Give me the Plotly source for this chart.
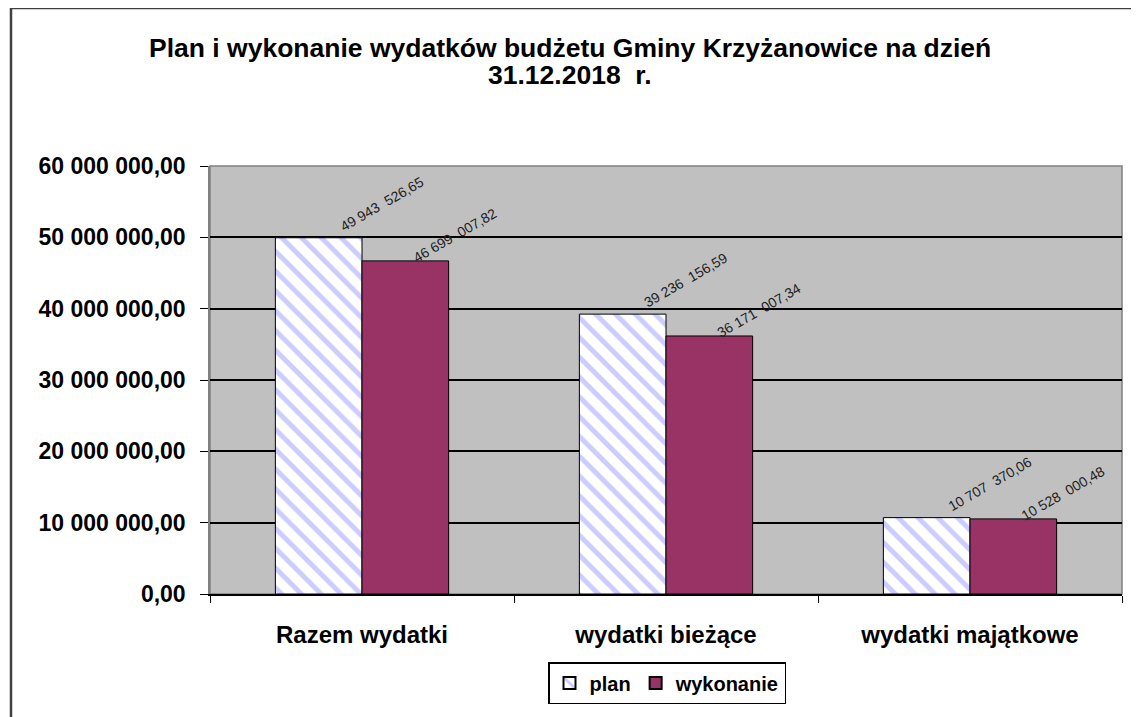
import plotly.graph_objects as go

categories = ["Razem wydatki", "wydatki bieżące", "wydatki majątkowe"]
plan = [49943526.65, 39236156.59, 10707370.06]
wykonanie = [46699007.82, 36171007.34, 10528000.48]
plan_labels = ["49 943  526,65", "39 236  156,59", "10 707  370,06"]
wyk_labels = ["46 699  007,82", "36 171  007,34", "10 528  000,48"]
tick_vals = [0, 10000000, 20000000, 30000000, 40000000, 50000000, 60000000]
tick_text = ["0,00", "10 000 000,00", "20 000 000,00", "30 000 000,00",
             "40 000 000,00", "50 000 000,00", "60 000 000,00"]
title_lines = ["Plan i wykonanie wydatków budżetu Gminy Krzyżanowice na dzień",
               "31.12.2018  r."]

FONT = "Liberation Sans, Arial, sans-serif"
W, H = 1139, 717
ML, MR, MT, MB = 202, 25, 158, 131
pw, ph = W - ML - MR, H - MT - MB

fig = go.Figure()
fig.add_trace(go.Bar(
    x=categories, y=plan, name="<b>plan</b>",
    marker=dict(color="white", line=dict(color="black", width=1),
                pattern=dict(shape="\\", fgcolor="#9999FF", bgcolor="white",
                             size=14, solidity=0.35)),
))
fig.add_trace(go.Bar(
    x=categories, y=wykonanie, name="<b>wykonanie</b>",
    marker=dict(color="#993366", line=dict(color="black", width=1)),
))

bar_half = 0.57 / 2 * pw / 3 / 2
for i, c in enumerate(categories):
    fig.add_annotation(x=c, y=plan[i], text=plan_labels[i], showarrow=False,
                       xshift=-bar_half + 63, yshift=34, textangle=-30,
                       font=dict(family=FONT, size=14, color="#222222"))
    fig.add_annotation(x=c, y=wykonanie[i], text=wyk_labels[i], showarrow=False,
                       xshift=bar_half + 50, yshift=26, textangle=-30,
                       font=dict(family=FONT, size=14, color="#222222"))

for k, (line, ypx) in enumerate(zip(title_lines, [40, 67])):
    fig.add_annotation(xref="paper", yref="paper", x=(562 - ML) / pw,
                       y=(ph + MT - ypx) / ph,
                       text=f"<b>{line}</b>", showarrow=False,
                       font=dict(family=FONT, size=26.5, color="black"),
                       xanchor="center", yanchor="middle")

# outer chart frame
fig.add_shape(type="rect", xref="paper", yref="paper",
              x0=(3 - ML) / pw, x1=(W + 20 - ML) / pw,
              y0=(ph + MT - (H + 20)) / ph, y1=(ph + MT - 0) / ph,
              line=dict(color="#404040", width=2.5), layer="above")

fig.update_layout(
    width=W, height=H,
    margin=dict(l=ML, r=MR, t=MT, b=MB),
    paper_bgcolor="white", plot_bgcolor="#C0C0C0",
    barmode="group", bargap=0.43, bargroupgap=0,
    showlegend=True,
    legend=dict(orientation="h", x=(667 - 8 - ML) / pw, xanchor="center",
                y=-(683 - 594) / ph, yanchor="middle",
                font=dict(family=FONT, size=20, color="black"),
                bordercolor="black", borderwidth=1.5, bgcolor="white",
                itemwidth=30, itemsizing="constant", traceorder="normal"),
    font=dict(family=FONT, color="black"),
)
fig.update_xaxes(
    showgrid=False, showline=True, linecolor="black", linewidth=1.5,
    ticks="outside", tickson="boundaries", ticklen=7, tickcolor="black",
    tickfont=dict(family=FONT, size=24, color="black"),
    ticktext=[f"<b>{c}</b>" for c in categories], tickvals=categories,
    ticklabelstandoff=18,
    mirror=False,
)
fig.update_yaxes(
    range=[0, 60000000], tickvals=tick_vals, ticktext=[f"<b>{t}</b>" for t in tick_text],
    showgrid=True, gridcolor="black", gridwidth=1.5,
    showline=True, linecolor="#808080", linewidth=1.5,
    ticks="outside", ticklen=8, tickcolor="black",
    tickfont=dict(family=FONT, size=23, color="black"),
    ticklabelstandoff=10,
    zeroline=False,
)
# plot area border
fig.add_shape(type="rect", xref="paper", yref="paper", x0=0, x1=1, y0=0, y1=1,
              line=dict(color="#808080", width=1.5), layer="below")

fig.write_html("out.html")
